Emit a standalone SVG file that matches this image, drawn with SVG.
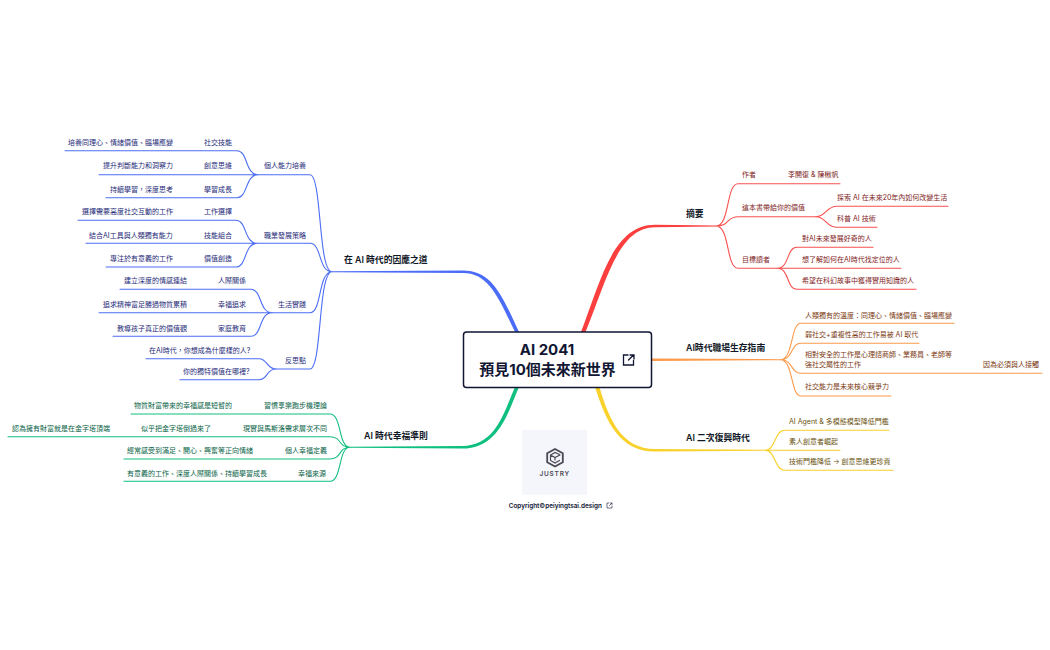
<svg xmlns="http://www.w3.org/2000/svg" width="1050" height="650" viewBox="0 0 1050 650">
<style>
text{font-family:Inter,"Noto Sans CJK TC","Noto Sans",sans-serif;font-size:7px}
g text.h{font-size:8.800px;font-weight:600;fill:#111827}
.b text{fill:#1e2a78}.r text{fill:#7f1d1d}.o text{fill:#7c3a12}.y text{fill:#6b5310}.g text{fill:#065f46}
.b path{stroke:#4c6ef5}.r path{stroke:#f9504f}.o path{stroke:#fb9a4b}.y path{stroke:#f8d12a}.g path{stroke:#12bf7f}
path{fill:none;stroke-width:1.100;stroke-linecap:round}
#trunks path{stroke:none}
.title{font-size:15px;font-weight:700;fill:#111633}
</style>
<rect width="1050" height="650" fill="#fff"/>
<g id="connectors">
<g id="trunks">
<path style="fill:#4a6cf7" d="M515 332C498 296 488 273 463 273L332 272.200V271.200L463 270.400C492 270.400 502 295 519 332Z"/>
<path style="fill:#fb3f3f" d="M581 332C601 280 613 224.700 655 224.700L716 225.500V226.500L655 227.300C618 227.300 606 282 585.500 332Z"/>
<path style="fill:#fb9a4b" d="M651.500 358.400L780 359.200V360.200L651.500 361Z"/>
<path style="fill:#f8d12a" d="M595 387C606 421 619 451.600 655 451.600L765 450.800V449.800L655 449C622 449 609 420 599.500 387Z"/>
<path style="fill:#0fbf7f" d="M515 387C504 412 496 446 462 446L350 446.800V447.800L462 448.600C499 448.600 508 412 519 387Z"/>
</g>
<g class="b">
<path d="M332 271.700C318 271.700 322 174.700 310 174.700L258 174.700M332 271.700C318 271.700 322 243.300 310 243.300L257 243.300M332 271.700C318 271.700 322 312.700 310 312.700L272 312.700M332 271.700C318 271.700 322 369 310 369L276 369"/>
<path d="M258 174.700C245 174.700 248 150.700 237 150.700L65 150.700M258 174.700L99 174.700M258 174.700C245 174.700 248 197.700 237 197.700L106 197.700"/>
<path d="M257 243.300C244 243.300 247 220.300 236 220.300L78 220.300M257 243.300L86 243.300M257 243.300C244 243.300 247 267 236 267L106 267"/>
<path d="M272 312.700C259 312.700 262 289.300 251 289.300L120 289.300M272 312.700L99 312.700M272 312.700C259 312.700 262 336.300 251 336.300L113 336.300"/>
<path d="M276 369C266 369 268 358.700 259 358.700L146 358.700M276 369C266 369 268 379.700 259 379.700L180 379.700"/>
</g>
<g class="g">
<path d="M350 447.300C338 447.300 342 414 330 414L131 414M350 447.300C338 447.300 342 436.700 330 436.700L8 436.700M350 447.300C338 447.300 342 459 330 459L124 459M350 447.300C338 447.300 342 481.300 330 481.300L124 481.300"/>
</g>
<g class="r">
<path d="M716 226C730 226 726 183.700 738 183.700L840 183.700M716 226C730 226 726 216.700 738 216.700L816 216.700M716 226C730 226 726 268.300 738 268.300L777 268.300"/>
<path d="M816 216.700C826 216.700 826 206.300 837 206.300L948 206.300M816 216.700C826 216.700 826 227.300 837 227.300L877 227.300"/>
<path d="M777 268.300C790 268.300 786 247.300 797 247.300L873 247.300M777 268.300L901 268.300M777 268.300C790 268.300 786 289.300 797 289.300L916 289.300"/>
</g>
<g class="o">
<path d="M780 359.700C794 359.700 790 323.300 801 323.300L954 323.300M780 359.700C794 359.700 790 343.300 801 343.300L919 343.300M780 359.700C794 359.700 790 373.300 801 373.300L1042 373.300M780 359.700C794 359.700 790 396 801 396L891 396"/>
</g>
<g class="y">
<path d="M765 450.300C776 450.300 774 430.300 785 430.300L889 430.300M765 450.300L840 450.300M765 450.300C776 450.300 774 470.300 785 470.300L893 470.300"/>
</g>
</g>
<g id="root">
<rect x="463.500" y="332" width="188" height="55.500" rx="3" fill="#fff" stroke="#111633" stroke-width="1.500"/>
<text class="title" x="547" y="355" text-anchor="middle">AI 2041</text>
<text class="title" x="547.500" y="375" text-anchor="middle">預見10個未來新世界</text>
<path d="M628 355H623.500V365H633.500V360.500M628.500 360L633.500 355M630 355H634V359" style="stroke:#111633;stroke-width:1.300"/>
</g>
<g id="logo">
<rect x="522.300" y="430" width="64.700" height="64.700" fill="#f5f6fb"/>
<path d="M555 449L562.800 453.300V462.200L555 466.500L547.200 462.200V453.300Z" style="stroke:#4a4a55;stroke-width:1.800"/>
<path d="M559.500 454.500L555 452.500L550.500 455V460.500L555 463L559.500 460.500M550.500 455L555 457.500L560 455M555 457.500V460" style="stroke:#4a4a55;stroke-width:1.200"/>
<text x="554.700" y="476" text-anchor="middle" style="font-size:6.500px;font-weight:600;fill:#4a4a55;letter-spacing:.8px">JUSTRY</text>
</g>
<g id="copyright">
<text x="508.700" y="507.500" style="font-size:6.400px;font-weight:600;fill:#111633">Copyright©peiyingtsai.design</text>
<path d="M609 503H607V508H612V506M609.500 505.500L612 503M610.500 503H612V504.500" style="stroke:#111633;stroke-width:.6"/>
</g>
<g id="n-blue" class="b">
<text class="h" x="344" y="263">在 AI 時代的因應之道</text>
<text x="264" y="168.100">個人能力培養</text><text x="204" y="145.100">社交技能</text><text x="68" y="145.100">培養同理心、情緒價值、臨場應變</text>
<text x="204" y="168.100">創意思維</text><text x="103" y="168.100">提升判斷能力和洞察力</text>
<text x="204" y="191.600">學習成長</text><text x="110" y="191.600">持續學習，深度思考</text>
<text x="264" y="237.600">職業發展策略</text><text x="204" y="214.100">工作選擇</text><text x="82" y="214.100">選擇需要高度社交互動的工作</text>
<text x="204" y="237.600">技能組合</text><text x="89" y="237.600">結合AI工具與人類獨有能力</text>
<text x="204" y="260.600">價值創造</text><text x="110" y="260.600">專注於有意義的工作</text>
<text x="278" y="307.100">生活實踐</text><text x="218" y="283.100">人際關係</text><text x="124" y="283.100">建立深度的情感連結</text>
<text x="218" y="307.100">幸福追求</text><text x="103" y="307.100">追求精神富足勝過物質累積</text>
<text x="218" y="330.600">家庭教育</text><text x="117" y="330.600">教導孩子真正的價值觀</text>
<text x="285" y="363.100">反思點</text><text x="149" y="353.100">在AI時代，你想成為什麼樣的人?</text><text x="183" y="373.600">你的獨特價值在哪裡?</text>
</g>
<g id="n-green" class="g">
<text class="h" x="364" y="439.200">AI 時代幸福準則</text>
<text x="264" y="407.600">習慣享樂跑步機理論</text><text x="134" y="407.600">物質財富帶來的幸福感是短暫的</text>
<text x="243" y="430.600">現實與馬斯洛需求層次不同</text><text x="141" y="430.600">似乎把金字塔倒過來了</text><text x="12" y="430.600">認為擁有財富就是在金字塔頂端</text>
<text x="285" y="453.100">個人幸福定義</text><text x="127" y="453.100">經常感受到滿足、開心、興奮等正向情緒</text>
<text x="298" y="475.600">幸福來源</text><text x="127" y="475.600">有意義的工作、深度人際關係、持續學習成長</text>
</g>
<g id="n-red" class="r">
<text class="h" x="686" y="217.200">摘要</text>
<text x="742" y="177.100">作者</text><text x="788" y="177.100">李開復 &amp; 陳楸帆</text>
<text x="742" y="210.100">這本書帶給你的價值</text><text x="837" y="200.100">探索 AI 在未來20年內如何改變生活</text><text x="837" y="221.100">科普 AI 技術</text>
<text x="742" y="262.100">目標讀者</text><text x="802" y="241.100">對AI未來發展好奇的人</text><text x="802" y="262.100">想了解如何在AI時代找定位的人</text><text x="802" y="283.100">希望在科幻故事中獲得實用知識的人</text>
</g>
<g id="n-orange" class="o">
<text class="h" x="686" y="350.700">AI時代職場生存指南</text>
<text x="805" y="317.600">人類獨有的溫度：同理心、情緒價值、臨場應變</text>
<text x="805" y="337.100">弱社交+重複性高的工作易被 AI 取代</text>
<text x="805" y="357.100">相對安全的工作是心理諮商師、業務員、老師等</text>
<text x="805" y="367.100">強社交屬性的工作</text>
<text x="983" y="367.100">因為必須與人接觸</text>
<text x="805" y="389.100">社交能力是未來核心競爭力</text>
</g>
<g id="n-yellow" class="y">
<text class="h" x="686" y="440.700">AI 二次復興時代</text>
<text x="789" y="424.100">AI Agent &amp; 多模態模型降低門檻</text>
<text x="789" y="444.100">素人創意者崛起</text>
<text x="789" y="464.100">技術門檻降低 → 創意思維更珍貴</text>
</g>
</svg>
